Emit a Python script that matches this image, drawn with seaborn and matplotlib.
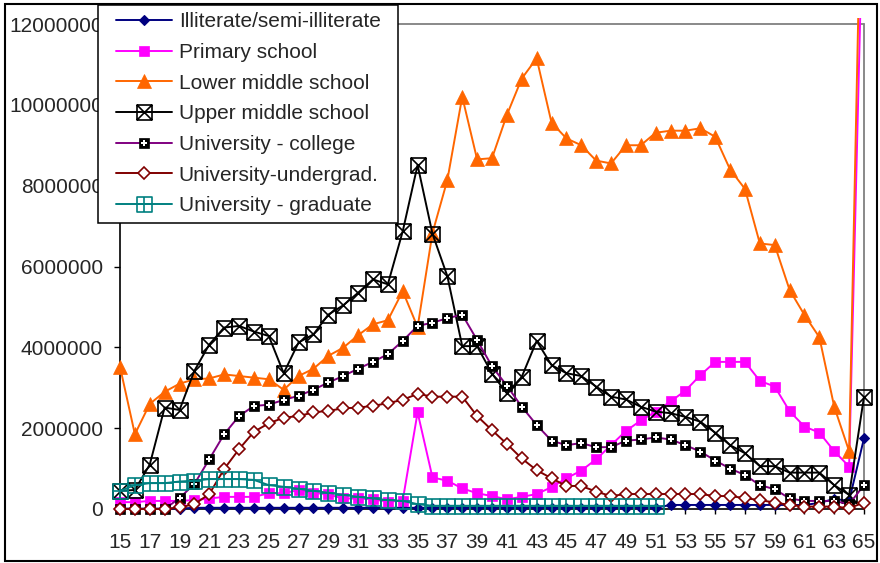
import numpy as np
import matplotlib
matplotlib.use("Agg")
import matplotlib.pyplot as plt
from matplotlib.path import Path
from matplotlib.patches import Rectangle
from matplotlib.lines import Line2D
from matplotlib.legend_handler import HandlerLine2D, HandlerTuple
import seaborn as sns

# Population by age (15-65) and education level, in millions of people
ages = list(range(15, 66))

illiterate = [0.01] * 5 + [0.03] * 32 + [0.1] * 10 + [0.15, 0.25, 0.2, 1.75]

primary = [0.17, 0.17, 0.2, 0.2, 0.2, 0.22, 0.26, 0.3, 0.3, 0.3,
           0.39, 0.39, 0.47, 0.4, 0.36, 0.26, 0.26, 0.24, 0.18, 0.21,
           2.39, 0.78, 0.7, 0.51, 0.39, 0.32, 0.24, 0.3, 0.37, 0.54,
           0.76, 0.95, 1.23, 1.58, 1.93, 2.19, 2.41, 2.66, 2.93, 3.31,
           3.64, 3.64, 3.64, 3.17, 3.03, 2.42, 2.04, 1.89, 1.43, 1.05,
           16.0]

lower_middle = [3.52, 1.85, 2.6, 2.9, 3.1, 3.21, 3.23, 3.33, 3.29, 3.25,
                3.21, 2.95, 3.29, 3.47, 3.79, 3.99, 4.3, 4.57, 4.67, 5.39,
                4.5, 6.83, 8.14, 10.2, 8.65, 8.68, 9.75, 10.65, 11.15, 9.56,
                9.17, 9.0, 8.62, 8.55, 9.0, 9.0, 9.31, 9.36, 9.36, 9.42,
                9.21, 8.4, 7.92, 6.57, 6.53, 5.42, 4.8, 4.25, 2.53, 1.43,
                19.0]

upper_middle = [0.45, 0.47, 1.1, 2.51, 2.45, 3.42, 4.07, 4.49, 4.53, 4.39,
                4.28, 3.36, 4.12, 4.32, 4.81, 5.04, 5.35, 5.68, 5.56, 6.87,
                8.51, 6.81, 5.76, 4.03, 4.03, 3.35, 2.86, 3.27, 4.16, 3.56,
                3.36, 3.29, 3.03, 2.78, 2.71, 2.53, 2.41, 2.37, 2.28, 2.16,
                1.89, 1.58, 1.38, 1.06, 1.06, 0.9, 0.9, 0.9, 0.59, 0.35,
                2.78]

college = [0.0, 0.0, 0.0, 0.0, 0.27, 0.62, 1.23, 1.85, 2.3, 2.55,
           2.58, 2.7, 2.8, 2.95, 3.13, 3.29, 3.47, 3.64, 3.83, 4.16,
           4.53, 4.61, 4.72, 4.81, 4.18, 3.53, 3.05, 2.53, 2.08, 1.69,
           1.58, 1.63, 1.53, 1.53, 1.69, 1.72, 1.77, 1.72, 1.58, 1.42,
           1.2, 1.0, 0.84, 0.59, 0.49, 0.26, 0.2, 0.2, 0.2, 0.12,
           0.59]

undergrad = [0.0, 0.0, 0.0, 0.0, 0.04, 0.12, 0.37, 0.99, 1.48, 1.91,
             2.12, 2.26, 2.3, 2.39, 2.43, 2.49, 2.51, 2.55, 2.62, 2.7,
             2.85, 2.78, 2.78, 2.78, 2.3, 1.95, 1.61, 1.25, 0.96, 0.76,
             0.57, 0.57, 0.43, 0.32, 0.37, 0.37, 0.37, 0.37, 0.37, 0.37,
             0.32, 0.32, 0.27, 0.22, 0.16, 0.1, 0.06, 0.06, 0.06, 0.02,
             0.16]

# graduate counts are only reported up to age 51
graduate = [0.45, 0.59, 0.64, 0.64, 0.68, 0.7, 0.74, 0.74, 0.74, 0.72,
            0.59, 0.55, 0.5, 0.45, 0.4, 0.35, 0.3, 0.26, 0.22, 0.2,
            0.12] + [0.08] * 16

labels = ["Illiterate/semi-illiterate", "Primary school", "Lower middle school",
          "Upper middle school", "University - college", "University-undergrad.",
          "University - graduate"]

y_ticks = [0, 2000000, 4000000, 6000000, 8000000, 10000000, 12000000]
x_ticks = list(range(15, 66, 2))

SCALE = 1e6

sns.set_theme(style="white")
plt.rcParams["font.family"] = ["Liberation Sans", "DejaVu Sans"]

W, H = 880, 563
fig = plt.figure(figsize=(W / 100, H / 100), dpi=100)
y_top = 12.15e6
ax_top_px = 24 - 485 * (y_top - 12e6) / 12e6
ax = fig.add_axes([120 / W, (H - 509) / H, 744 / W, (509 - ax_top_px) / H])

# boxed cross / boxed plus markers
box_x = Path([(-1, -1), (1, -1), (1, 1), (-1, 1), (-1, -1), (-1, -1), (1, 1), (-1, 1), (1, -1)],
             [Path.MOVETO, Path.LINETO, Path.LINETO, Path.LINETO, Path.CLOSEPOLY,
              Path.MOVETO, Path.LINETO, Path.MOVETO, Path.LINETO])
box_plus = Path([(-1, -1), (1, -1), (1, 1), (-1, 1), (-1, -1), (0, -1), (0, 1), (-1, 0), (1, 0)],
                [Path.MOVETO, Path.LINETO, Path.LINETO, Path.LINETO, Path.CLOSEPOLY,
                 Path.MOVETO, Path.LINETO, Path.MOVETO, Path.LINETO])

lw = 1.4
styles = [
    dict(color="#000080", marker="D", markersize=5.2, markerfacecolor="#000080",
         markeredgecolor="#000080", markeredgewidth=0.8),
    dict(color="#FF00FF", marker="s", markersize=7.4, markerfacecolor="#FF00FF",
         markeredgecolor="#FF00FF", markeredgewidth=0.5),
    dict(color="#FF6600", marker="^", markersize=9.6, markerfacecolor="#FF6600",
         markeredgecolor="#FF6600", markeredgewidth=0.5),
    dict(color="black", marker=box_x, markersize=10.8, markerfacecolor="none",
         markeredgecolor="black", markeredgewidth=1.2),
    dict(color="#800080", marker="s", markersize=6.5, markerfacecolor="black",
         markeredgecolor="black", markeredgewidth=0.5),
    dict(color="#800000", marker="D", markersize=6.5, markerfacecolor="white",
         markeredgecolor="#800000", markeredgewidth=1.2),
    dict(color="#008080", marker=box_plus, markersize=10.8, markerfacecolor="none",
         markeredgecolor="#008080", markeredgewidth=1.2),
]
series = [illiterate, primary, lower_middle, upper_middle, college, undergrad, graduate]


def marker_clip():
    # markers may spill past the left/bottom axes but values are cut at the top
    return Rectangle((-0.03, -0.05), 1.06, 1.05, transform=ax.transAxes)


handles = []
for i, (vals, st) in enumerate(zip(series, styles)):
    x = ages[:len(vals)]
    y = np.array(vals) * SCALE
    sns.lineplot(x=x, y=y, ax=ax, linewidth=lw, zorder=3 + i * 0.1, **st)
    line = ax.lines[-1]
    line.set_clip_path(marker_clip())
    if i == 4:
        # white plus inside the black college markers
        sns.scatterplot(x=x, y=y, ax=ax, marker="P", color="white", s=16,
                        linewidth=0, zorder=3 + i * 0.1 + 0.05)
        ax.collections[-1].set_clip_path(marker_clip())
        handles.append((line, ax.collections[-1]))
    else:
        handles.append(line)

# grey plot-area border on top and right
ax.plot([15, 65], [12e6, 12e6], color="#808080", linewidth=1.3, zorder=1, clip_on=False)
ax.plot([65, 65], [0, 12e6], color="#808080", linewidth=1.3, zorder=1, clip_on=False)

ax.set_xlim(15, 65)
ax.set_ylim(0, y_top)
ax.set_xticks(x_ticks)
ax.set_xticklabels([str(t) for t in x_ticks])
ax.set_yticks(y_ticks)
ax.set_yticklabels([str(t) for t in y_ticks])
ax.set_xlabel("")
ax.set_ylabel("")

for side in ["top", "right"]:
    ax.spines[side].set_visible(False)
for side in ["left", "bottom"]:
    ax.spines[side].set_color("black")
    ax.spines[side].set_linewidth(1.2)
    ax.spines[side].set_zorder(2)
ax.spines["left"].set_bounds(0, 12e6)
ax.tick_params(axis="y", direction="out", length=4.3, width=1, color="black",
               pad=7.9, labelsize=15, left=True)
ax.tick_params(axis="x", direction="out", length=3.6, width=1, color="black",
               pad=14, labelsize=15, bottom=True)
ax.set_facecolor("white")
ax.grid(False)

fs = 15
leg = fig.legend(handles, labels, loc="upper left",
                 bbox_to_anchor=(98 / W, 1 - 222 / H, 300 / W, 217 / H),
                 bbox_transform=fig.transFigure, mode="expand", borderaxespad=0,
                 fontsize=fs, frameon=True, fancybox=False, framealpha=1,
                 facecolor="white", edgecolor="black", borderpad=0.35,
                 handlelength=3.22, handletextpad=0.3, labelspacing=0.56,
                 numpoints=1, scatterpoints=1, scatteryoffsets=[0.5],
                 handler_map={Line2D: HandlerLine2D(xpad=0.53),
                              tuple: HandlerTuple(ndivide=1, xpad=0.53)})
leg.get_frame().set_linewidth(1.1)

# outer chart border
fig.patches.append(Rectangle((5 / W, 2 / H), 872 / W, 557 / H, transform=fig.transFigure,
                             fill=False, edgecolor="black", linewidth=1.5))

fig.savefig("out.png", dpi=100, facecolor="white")
